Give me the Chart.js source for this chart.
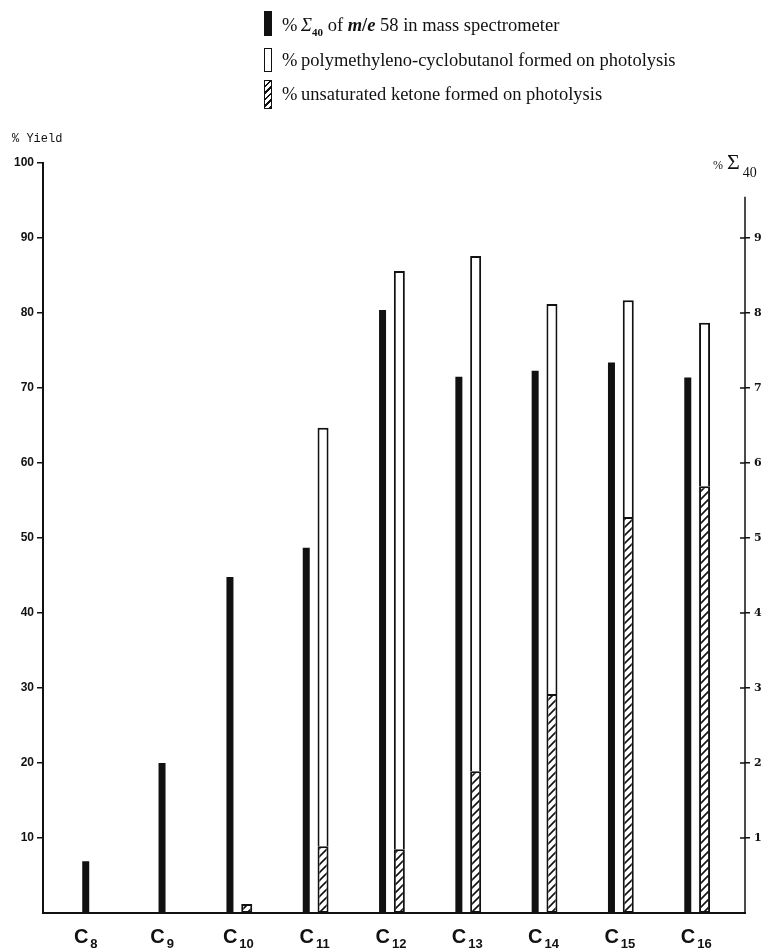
<!DOCTYPE html>
<html>
<head>
<meta charset="utf-8">
<script src="https://cdn.jsdelivr.net/npm/chart.js@4/dist/chart.umd.min.js"></script>
<style>
  html, body { margin: 0; padding: 0; background: #fff; }
  #wrap { position: relative; width: 784px; height: 950px; }
  #chart { position: absolute; left: 0; top: 0; }
  .legend { position: absolute; left: 262px; top: 0; font-family: "Liberation Serif", serif; font-size: 18.5px; color: #111; }
  .legend .row { position: absolute; left: 0; white-space: nowrap; }
  .legend .pct { position: absolute; left: 20px; }
  .legend .txt { position: absolute; left: 39px; }
  .icon { position: absolute; left: 2px; width: 6px; border: 1.5px solid #111; background: #fff; }
  .icon.solid { background: #111; }
  .icon.hatch { background: repeating-linear-gradient(135deg, #fff 0 3px, #111 3px 4.6px); }
  .ytitle { position: absolute; font-family: "Liberation Mono", monospace; font-size: 12px; color: #111; }
  .rtitle { position: absolute; font-family: "Liberation Serif", serif; color: #111; }
  sub { font-size: 11px; }
</style>
</head>
<body>
<div id="wrap">
  <canvas id="chart" width="784" height="950"></canvas>

  <div class="legend">
    <span class="icon solid" style="top:11px;height:23px;"></span>
    <span class="row" style="top:15px;"><span class="pct">%</span><span class="txt"><i>Σ</i><sub><b>40</b></sub> of <b><i>m</i>/<i>e</i></b> 58 in mass spectrometer</span></span>

    <span class="icon" style="top:48px;height:22px;"></span>
    <span class="row" style="top:50px;"><span class="pct">%</span><span class="txt">polymethyleno-cyclobutanol formed on photolysis</span></span>

    <span class="icon hatch" style="top:80px;height:27px;"></span>
    <span class="row" style="top:84px;"><span class="pct">%</span><span class="txt">unsaturated ketone formed on photolysis</span></span>
  </div>

  <span class="ytitle" style="left:12px;top:132px;">% Yield</span>
  <span class="rtitle" style="left:713px;top:149px;"><span style="font-size:12px;">%</span> <span style="font-size:22px;">Σ</span><span style="font-size:14px;position:relative;top:8px;margin-left:3px;">40</span></span>
</div>

<script>
// carbon ring size for each group (C8 ... C16)
const carbons = [8, 9, 10, 11, 12, 13, 14, 15, 16];

// % Σ40 of m/e 58 (right axis)
const sigma40 = [0.69, 2.0, 4.48, 4.87, 8.04, 7.15, 7.23, 7.34, 7.14];

// % unsaturated ketone (hatched, bottom of stack)
const ketone = [null, null, 1.2, 8.9, 8.5, 18.9, 29.2, 52.8, 56.9];

// % polymethyleno-cyclobutanol (open, on top of ketone)
const cyclobutanol = [null, null, null, 55.8, 77.1, 68.7, 52.0, 28.9, 21.8];

const yieldTicks = [10, 20, 30, 40, 50, 60, 70, 80, 90, 100];
const sigmaTicks = [1, 2, 3, 4, 5, 6, 7, 8, 9];

const INK = "#111";

const canvas = document.getElementById("chart");
const ctx = canvas.getContext("2d");

function makeHatch() {
    const p = document.createElement("canvas");
    p.width = 8;
    p.height = 8;
    const g = p.getContext("2d");
    g.fillStyle = "#fff";
    g.fillRect(0, 0, 8, 8);
    g.strokeStyle = INK;
    g.lineWidth = 1.6;
    g.beginPath();
    g.moveTo(0, 8); g.lineTo(8, 0);
    g.moveTo(-2, 2); g.lineTo(2, -2);
    g.moveTo(6, 10); g.lineTo(10, 6);
    g.stroke();
    return ctx.createPattern(p, "repeat");
}

const toPoints = arr => arr.map((v, i) => ({ x: carbons[i], y: v }));

// x labels as "C" + subscript number
const subLabels = {
    id: "subLabels",
    afterDraw(chart) {
        const x = chart.scales.x;
        const c = chart.ctx;
        c.save();
        c.fillStyle = INK;
        c.textBaseline = "alphabetic";
        carbons.forEach(n => {
            const px = x.getPixelForValue(n);
            c.font = "bold 20px 'Liberation Sans'";
            const wC = c.measureText("C").width;
            c.font = "bold 13px 'Liberation Sans'";
            const wN = c.measureText(String(n)).width;
            const start = px - (wC + 2 + wN) / 2;
            c.font = "bold 20px 'Liberation Sans'";
            c.fillText("C", start, 943);
            c.font = "bold 13px 'Liberation Sans'";
            c.fillText(String(n), start + wC + 2, 948);
        });
        c.restore();
    }
};

// right axis line stops short of the top, tick marks cross it
const rightAxis = {
    id: "rightAxis",
    afterDraw(chart) {
        const s = chart.scales.y1;
        const c = chart.ctx;
        const ax = chart.chartArea.right;
        c.save();
        c.strokeStyle = INK;
        c.lineWidth = 1.5;
        c.beginPath();
        c.moveTo(ax, s.getPixelForValue(0));
        c.lineTo(ax, s.getPixelForValue(9.55));
        sigmaTicks.forEach(v => {
            const py = s.getPixelForValue(v);
            c.moveTo(ax - 5, py);
            c.lineTo(ax, py);
        });
        c.stroke();
        c.restore();
    }
};

new Chart(ctx, {
    type: "bar",
    data: {
        datasets: [
            {
                label: "% Σ40 of m/e 58 in mass spectrometer",
                data: toPoints(sigma40),
                yAxisID: "y1",
                stack: "sigma",
                backgroundColor: INK,
                borderWidth: 0,
                barPercentage: 0.9,
                categoryPercentage: 0.44,
                maxBarThickness: 7
            },
            {
                label: "% unsaturated ketone formed on photolysis",
                data: toPoints(ketone),
                yAxisID: "y",
                stack: "yield",
                backgroundColor: makeHatch(),
                borderColor: INK,
                borderWidth: 2,
                borderSkipped: false,
                barPercentage: 0.9,
                categoryPercentage: 0.44,
                maxBarThickness: 11
            },
            {
                label: "% polymethyleno-cyclobutanol formed on photolysis",
                data: toPoints(cyclobutanol),
                yAxisID: "y",
                stack: "yield",
                backgroundColor: "#fff",
                borderColor: INK,
                borderWidth: 2,
                borderSkipped: "start",
                barPercentage: 0.9,
                categoryPercentage: 0.44,
                maxBarThickness: 11
            }
        ]
    },
    options: {
        responsive: false,
        animation: false,
        skipNull: true,
        layout: { padding: { top: 163, left: 0, right: 0, bottom: 0 } },
        plugins: {
            legend: { display: false },
            tooltip: { enabled: false }
        },
        scales: {
            x: {
                type: "linear",
                offset: false,
                stacked: true,
                min: 7.44,
                max: 16.64,
                afterBuildTicks: s => { s.ticks = carbons.map(v => ({ value: v })); },
                grid: { display: false, offset: false },
                border: { display: true, color: INK, width: 2 },
                ticks: { display: false },
                afterFit: s => { s.height = 37; }
            },
            y: {
                position: "left",
                stacked: true,
                min: 0,
                max: 100,
                afterBuildTicks: s => { s.ticks = yieldTicks.map(v => ({ value: v })); },
                afterFit: s => { s.width = 43; },
                grid: { display: true, drawOnChartArea: false, drawTicks: true, tickLength: 6, color: INK, lineWidth: 1.5 },
                border: { display: true, color: INK, width: 2 },
                ticks: { color: INK, padding: 3, font: { family: "Liberation Sans", weight: "bold", size: 12 } }
            },
            y1: {
                position: "right",
                stacked: true,
                min: 0,
                max: 10,
                afterBuildTicks: s => { s.ticks = sigmaTicks.map(v => ({ value: v })); },
                afterFit: s => { s.width = 39; },
                grid: { display: true, drawOnChartArea: false, drawTicks: true, tickLength: 5, color: INK, lineWidth: 1.5 },
                border: { display: false },
                ticks: { color: INK, padding: 4, font: { family: "DejaVu Serif", weight: "bold", size: 11 } }
            }
        }
    },
    plugins: [subLabels, rightAxis]
});
</script>
</body>
</html>
